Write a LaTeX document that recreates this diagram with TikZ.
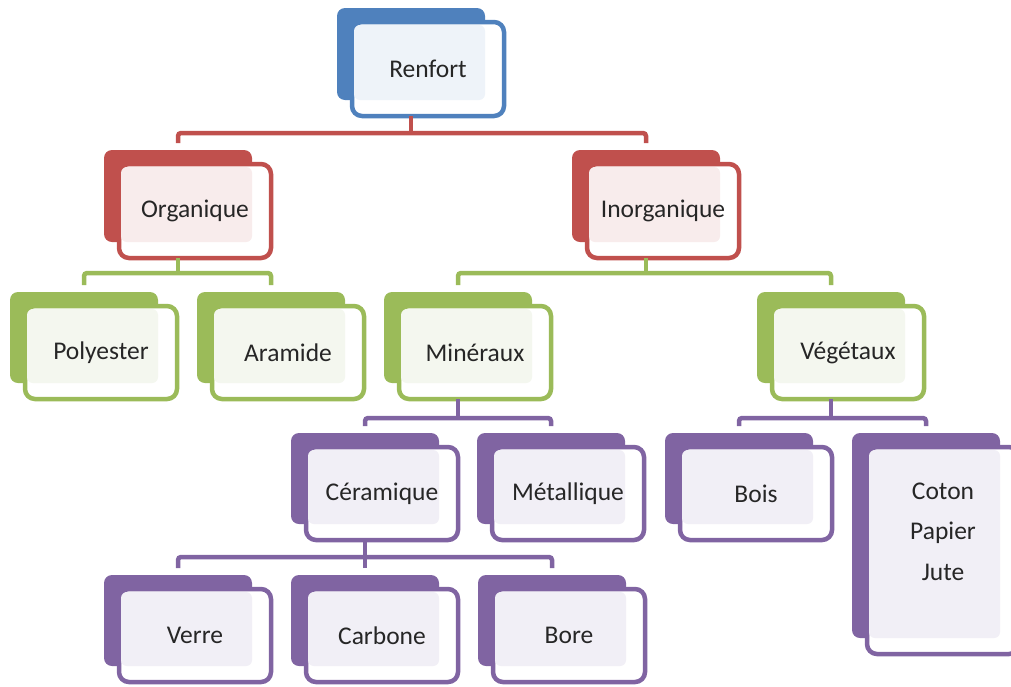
\documentclass[tikz,border=0pt]{standalone}
\usepackage{fontspec}
\setmainfont{Carlito}

\definecolor{bleu}{HTML}{4F81BD}
\definecolor{bleuclair}{HTML}{EEF3F9}
\definecolor{rouge}{HTML}{C0504D}
\definecolor{rougeclair}{HTML}{F8ECEC}
\definecolor{vert}{HTML}{9BBB59}
\definecolor{vertclair}{HTML}{F4F7EF}
\definecolor{violet}{HTML}{8064A2}
\definecolor{violetclair}{HTML}{F1EFF6}

\tikzset{
	dos/.style={fill=#1, rounded corners=8pt},
	cadre/.style={draw=#1, fill=white, line width=4.5pt, rounded corners=10pt},
	fond/.style={fill=#1, rounded corners=6pt},
	etiquette/.style={font=\fontsize{25.5}{40.5}\selectfont, text=black!85, align=center, inner sep=0pt},
	lien/.style={draw=#1, line width=4.5pt, rounded corners=3pt},
}

% \boite[decalage]{nom}{x}{y}{hauteur}{couleur}{texte}
\newcommand{\boite}[7][0]{%
	\fill[dos=#6] (#3,#4) rectangle ++(148,#5);
	\draw[cadre=#6] (#3+15,#4+14) rectangle (#3+167,#4+#5+16);
	\fill[fond=#6clair] (#3+17,#4+17) rectangle (#3+148,#4+#5);
	\node[etiquette] (#2) at ({#3+91},{#4+#5/2+15+(#1)}) {#7};
	\coordinate (#2-haut) at (#3+74,#4-7);
	\coordinate (#2-bas) at (#3+74,#4+#5+16);
}

\begin{document}
\begin{tikzpicture}[x=1pt,y=-1pt]

	\useasboundingbox (0,0) rectangle (1011,686);

	\boite{renfort}{337}{8}{92}{bleu}{Renfort}
	\boite{org}{104}{150}{92}{rouge}{Organique}
	\boite{inorg}{572}{150}{92}{rouge}{Inorganique}
	\boite{poly}{10}{292}{91}{vert}{Polyester}
	\boite{aram}{197}{292}{91}{vert}{Aramide}
	\boite{min}{384}{292}{91}{vert}{Minéraux}
	\boite{veg}{757}{292}{91}{vert}{Végétaux}
	\boite{cera}{291}{433}{91}{violet}{Céramique}
	\boite{meta}{477}{433}{91}{violet}{Métallique}
	\boite{bois}{665}{433}{91}{violet}{Bois}
	\boite[-19]{coton}{852}{433}{205}{violet}{Coton\\Papier\\Jute}
	\boite{verre}{104}{575}{91}{violet}{Verre}
	\boite{carb}{291}{575}{91}{violet}{Carbone}
	\boite{bore}{478}{575}{91}{violet}{Bore}

	\coordinate (n1) at (0,133);
	\coordinate (n2) at (0,273);
	\coordinate (n3) at (0,418);
	\coordinate (n4) at (0,557);

	\draw[lien=rouge] (renfort-bas) -- (renfort-bas |- n1);
	\draw[lien=rouge] (org-haut) |- (inorg-haut |- n1) -- (inorg-haut);

	\draw[lien=vert] (org-bas) -- (org-bas |- n2);
	\draw[lien=vert] (poly-haut) |- (aram-haut |- n2) -- (aram-haut);
	\draw[lien=vert] (inorg-bas) -- (inorg-bas |- n2);
	\draw[lien=vert] (min-haut) |- (veg-haut |- n2) -- (veg-haut);

	\draw[lien=violet] (min-bas) -- (min-bas |- n3);
	\draw[lien=violet] (cera-haut) |- (meta-haut |- n3) -- (meta-haut);
	\draw[lien=violet] (veg-bas) -- (veg-bas |- n3);
	\draw[lien=violet] (bois-haut) |- (coton-haut |- n3) -- (coton-haut);

	\draw[lien=violet] (cera-bas) -- (cera-bas |- n4);
	\draw[lien=violet] (verre-haut) |- (bore-haut |- n4) -- (bore-haut);
	\draw[lien=violet] (carb-haut) -- (carb-haut |- n4);

\end{tikzpicture}
\end{document}
